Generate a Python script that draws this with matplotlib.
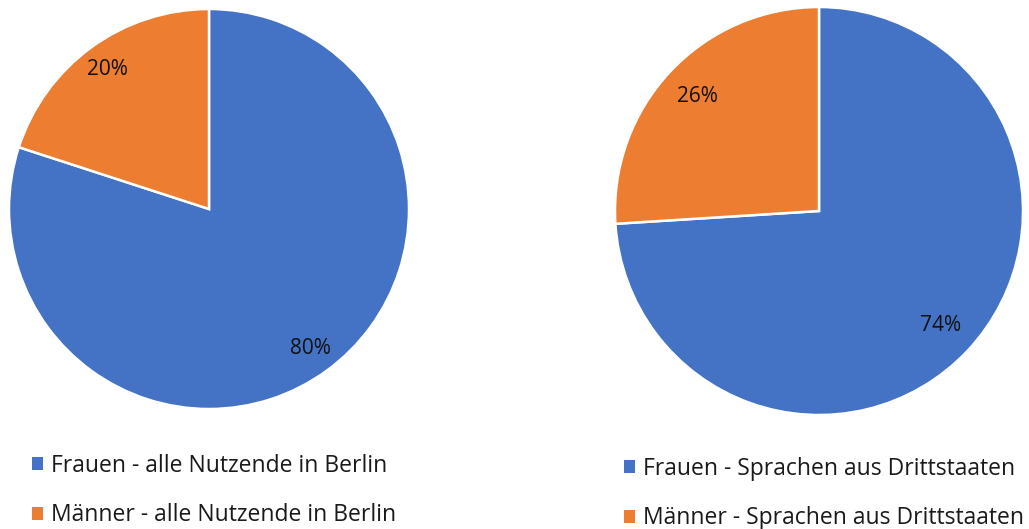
import matplotlib.pyplot as plt

plt.rcParams['font.family'] = ['Open Sans', 'DejaVu Sans']

# Daten
labels_left = ['Frauen - alle Nutzende in Berlin', 'Männer - alle Nutzende in Berlin']
values_left = [80, 20]
labels_right = ['Frauen - Sprachen aus Drittstaaten', 'Männer - Sprachen aus Drittstaaten']
values_right = [74, 26]
colors = ['#4472C4', '#ED7D31']

W, H = 1029, 529
fig = plt.figure(figsize=(W / 100, H / 100), dpi=100)


def pie_axes(cx, cy, r):
    # Achse in Pixelkoordinaten (Ursprung oben links) platzieren
    pad = r * 1.02
    return fig.add_axes([(cx - pad) / W, (H - cy - pad) / H, 2 * pad / W, 2 * pad / H])


def draw(ax, values, labels, pctdist, leg_xy):
    wedges, _, autotexts = ax.pie(values, colors=colors, startangle=90, counterclock=False,
                                  autopct='%1.0f%%', pctdistance=pctdist,
                                  wedgeprops=dict(edgecolor='white', linewidth=1.8))
    for t in autotexts:
        t.set_fontsize(15)
        t.set_color('#111111')
    ax.set_xlim(-1.02, 1.02)
    ax.set_ylim(-1.02, 1.02)
    ax.set_aspect('equal')
    leg = fig.legend(wedges, labels, loc='upper left',
                     bbox_to_anchor=(leg_xy[0] / W, 1 - leg_xy[1] / H),
                     frameon=False, fontsize=16.5, handlelength=0.5, handleheight=0.5,
                     handletextpad=0.35, labelspacing=1.1, borderpad=0, borderaxespad=0,
                     labelcolor='#1a1a1a')
    for h in leg.legend_handles:
        h.set_edgecolor('none')


ax1 = pie_axes(209, 209, 200)
draw(ax1, values_left, labels_left, 0.86, (32, 454))

ax2 = pie_axes(819, 211, 204)
draw(ax2, values_right, labels_right, 0.82, (624, 457))

fig.savefig('out.png', dpi=100, facecolor='white')
